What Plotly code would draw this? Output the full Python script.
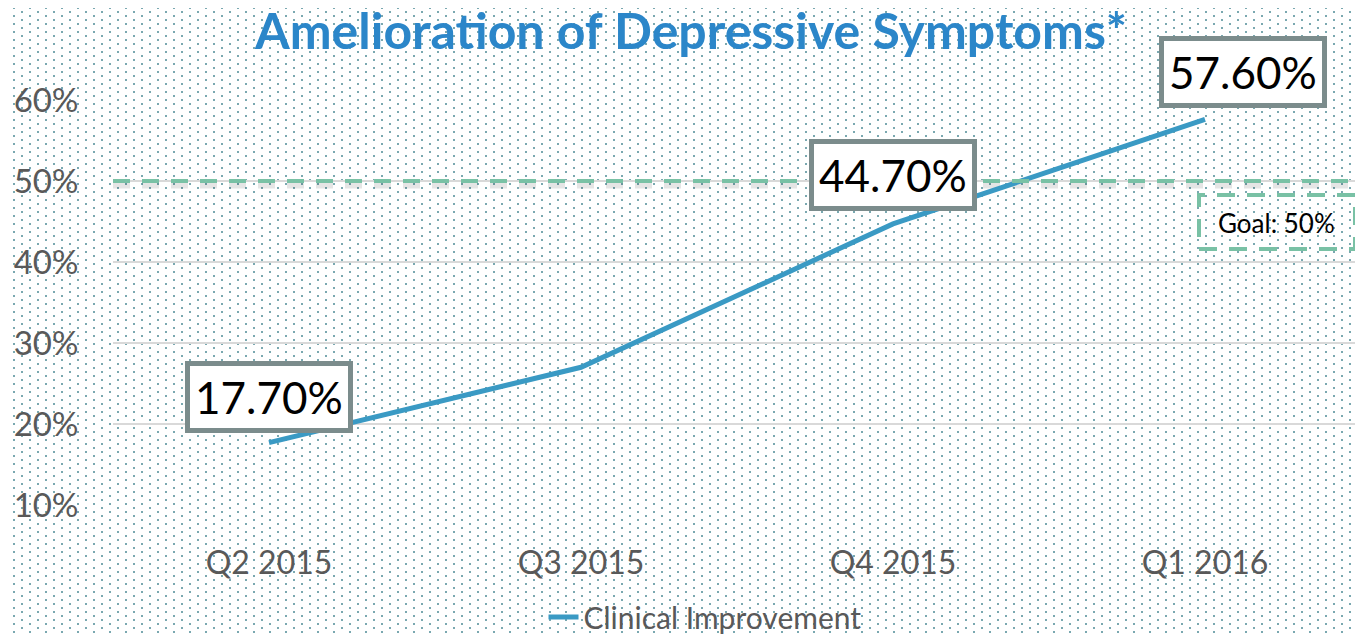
import base64
import plotly.graph_objects as go

# ---- data ----
categories = ["Q2 2015", "Q3 2015", "Q4 2015", "Q1 2016"]
improvement = [0.177, 0.270, 0.447, 0.576]
point_labels = ["17.70%", None, "44.70%", "57.60%"]
goal_value = 0.50
goal_label = "Goal: 50%"
y_ticks = [0.1, 0.2, 0.3, 0.4, 0.5, 0.6]
series_name = "Clinical Improvement"
title_text = "Amelioration of Depressive Symptoms*"

# page has an 8px body margin, so the figure is offset by (8, 8)
OFF = 8
W, H = 1355, 626
ML, MR, MT, MB = 105, 2, 92, 129
PW, PH = W - ML - MR, H - MT - MB

FONT = "Lato"
LINE_COLOR = "#3A9AC4"
GOAL_COLOR = "#79C1A5"
BOX_BORDER = "#7B8C8C"
DOT = "#7AA8B0"


def px_x(page_x):
    return (page_x - OFF - ML) / PW


def px_y(page_y):
    return (H - MB - (page_y - OFF)) / PH


# dotted background pattern (16x8 tile, staggered)
svg = (
    f'<svg xmlns="http://www.w3.org/2000/svg" width="{W}" height="{H}">'
    '<defs><pattern id="p" x="5" y="3" width="16" height="8" patternUnits="userSpaceOnUse">'
    f'<rect x="8" y="0" width="2" height="2" fill="{DOT}"/>'
    f'<rect x="0" y="4" width="2" height="2" fill="{DOT}"/>'
    '</pattern></defs>'
    f'<rect width="{W}" height="{H}" fill="white"/>'
    f'<rect width="{W}" height="{H}" fill="url(#p)"/></svg>'
)
svg_uri = "data:image/svg+xml;base64," + base64.b64encode(svg.encode()).decode()

fig = go.Figure()
fig.add_trace(go.Scatter(
    x=categories, y=improvement, mode="lines", name=series_name,
    line=dict(color=LINE_COLOR, width=5),
    hoverinfo="skip",
))

# goal line shadow + dashed line
fig.add_shape(type="line", xref="paper", x0=0, x1=1, yref="y",
              ysizemode="pixel", yanchor=goal_value, y0=-4, y1=-4,
              line=dict(color="rgba(0,0,0,0.10)", width=7, dash="17px,12px"),
              layer="below")
fig.add_shape(type="line", xref="paper", x0=0, x1=1, yref="y",
              y0=goal_value, y1=goal_value,
              line=dict(color=GOAL_COLOR, width=4, dash="17px,12px"))

# goal box
fig.add_shape(type="rect", xref="paper", yref="paper",
              x0=px_x(1199), x1=px_x(1355),
              y0=px_y(249), y1=px_y(195),
              line=dict(color=GOAL_COLOR, width=4, dash="18px,12px"))
fig.add_annotation(xref="paper", yref="paper",
                   x=px_x(1276), y=px_y(223), xanchor="center", yanchor="middle",
                   text=goal_label, showarrow=False,
                   font=dict(family=FONT, size=26, color="#000000"))

# data labels
shifts = [(0, 46), (0, 0), (0, 49), (38, 47)]
for cat, val, lab, (dx, dy) in zip(categories, improvement, point_labels, shifts):
    if lab is None:
        continue
    fig.add_annotation(x=cat, y=val, text=lab, showarrow=False,
                       xanchor="center", yanchor="middle",
                       xshift=dx, yshift=dy,
                       font=dict(family=FONT, size=44, color="#000000"),
                       bgcolor="white", bordercolor=BOX_BORDER, borderwidth=5,
                       borderpad=5)

fig.add_layout_image(dict(
    source=svg_uri, xref="paper", yref="paper",
    x=-ML / PW, y=1 + MT / PH, sizex=W / PW, sizey=H / PH,
    xanchor="left", yanchor="top", sizing="stretch", layer="below",
))

fig.update_layout(
    width=W, height=H,
    margin=dict(l=ML, r=MR, t=MT, b=MB, autoexpand=False),
    paper_bgcolor="white",
    plot_bgcolor="rgba(0,0,0,0)",
    title=dict(text=title_text, x=(691 - OFF) / W, xanchor="center",
               y=1 - (31 - OFF) / H, yanchor="middle",
               font=dict(family=FONT, size=50, color="#2B86C9", weight="bold")),
    xaxis=dict(type="category", range=[-0.5, 3.5], showgrid=False,
               showline=False, zeroline=False,
               ticks="outside", ticklen=30, tickcolor="rgba(0,0,0,0)",
               tickfont=dict(family=FONT, size=32, color="#595959")),
    yaxis=dict(range=[0.1, 0.6], tickvals=y_ticks, tickformat=".0%",
               showgrid=True, gridcolor="#D9D9D9", gridwidth=2,
               zeroline=False, showline=False,
               ticks="outside", ticklen=27, tickcolor="rgba(0,0,0,0)",
               tickfont=dict(family=FONT, size=33, color="#595959")),
    showlegend=True,
    legend=dict(orientation="h", x=px_x(705), xanchor="center",
                y=px_y(617), yanchor="middle",
                bgcolor="rgba(0,0,0,0)",
                font=dict(family=FONT, size=30, color="#595959")),
)

fig.write_html("out.html")
